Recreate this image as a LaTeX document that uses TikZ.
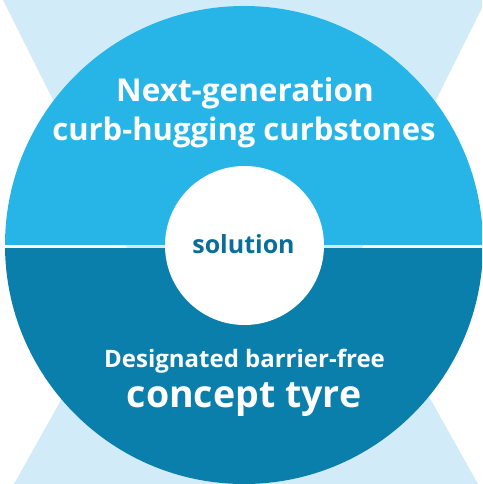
\documentclass[tikz,border=0pt]{standalone}
\usepackage{fontspec}
\setmainfont{Open Sans}
\definecolor{bgblue}{HTML}{D1ECF8}
\definecolor{topblue}{HTML}{27B5E8}
\definecolor{botblue}{HTML}{0A7FAB}
\definecolor{txtblue}{HTML}{0B6E9A}
\tikzset{
  lbl/.style={anchor=base, text=white, inner sep=0pt, font=\bfseries},
}
\begin{document}
\begin{tikzpicture}[x=1pt,y=-1pt]
\useasboundingbox (0,0) rectangle (482,484);
\clip (0,0) rectangle (482,484);
% background X
\fill[bgblue] (3,0) -- (486,0) -- (244.5,483) -- cycle;
\fill[bgblue] (14,484) -- (478,484) -- (246,70) -- cycle;
% big circle halves
\begin{scope}
  \clip (0,0) rectangle (482,244);
  \fill[topblue] (244,245) circle[radius=239];
\end{scope}
\begin{scope}
  \clip (0,248) rectangle (482,484);
  \fill[botblue] (244,245) circle[radius=239];
\end{scope}
% centre
\node[circle, fill=white, minimum size=159pt, inner sep=0pt] (sol) at (244.5,245.5) {};
\node[anchor=base, inner sep=0pt, text=txtblue, font=\bfseries\fontsize{25}{30}\selectfont] (soltxt) at (243.5,253) {solution};
% labels
\node[lbl, font=\bfseries\fontsize{31.5}{36}\selectfont] (t1) at (245,102) {Next-generation};
\node[lbl, font=\bfseries\fontsize{31}{36}\selectfont] (t2) at (244,140) {curb-hugging curbstones};
\node[lbl, font=\bfseries\fontsize{24}{28}\selectfont] (b1) at (244.5,367) {Designated barrier-free};
\node[lbl, font=\bfseries\fontsize{37.5}{42}\selectfont] (b2) at (244,407) {concept tyre};
\end{tikzpicture}
\end{document}
